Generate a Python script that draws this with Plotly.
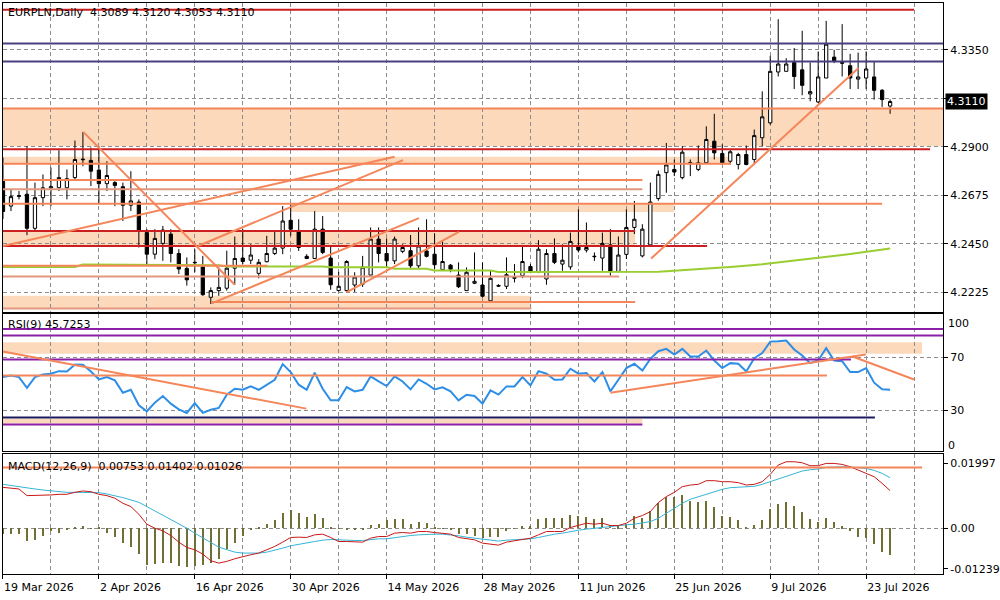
import plotly.graph_objects as go

# ---------------- data (bar index = trading bar, 6 bars per week) ----------------
bars = list(range(112))
opens = [4.2740,4.2625,4.2670,4.2680,4.2522,4.2664,4.2709,4.2710,4.2710,4.2757,
         4.2840,4.2837,4.2792,4.2729,4.2734,4.2715,4.2629,4.2644,4.2502,4.2402,
         4.2452,4.2495,4.2405,4.2336,4.2362,4.2343,4.2202,4.2233,4.2244,4.2337,
         4.2384,4.2374,4.2313,4.2367,4.2405,4.2430,4.2559,4.2505,4.2392,4.2382,
         4.2518,4.2384,4.2233,4.2233,4.2259,4.2263,4.2305,4.2472,4.2405,4.2371,
         4.2415,4.2418,4.2348,4.2417,4.2402,4.2330,4.2351,4.2305,4.2233,4.2267,
         4.2259,4.2186,4.2257,4.2253,4.2290,4.2302,4.2345,4.2318,4.2287,4.2405,
         4.2356,4.2343,4.2436,4.2421,4.2390,4.2384,4.2445,4.2322,4.2401,4.2526,
         4.2394,4.2445,4.2660,4.2780,4.2795,4.2757,4.2826,4.2795,4.2826,4.2926,
         4.2869,4.2833,4.2818,4.2864,4.2841,4.2942,4.3011,4.3247,4.3250,4.3291,
         4.3257,4.3145,4.3108,4.3219,4.3316,4.3291,4.3276,4.3214,4.3219,4.3224,
         4.3162,4.3089]
highs = [4.2850,4.2703,4.2695,4.2903,4.2734,4.2772,4.2804,4.2884,4.2795,4.2929,
         4.2969,4.2897,4.2903,4.2833,4.2741,4.2734,4.2787,4.2656,4.2518,4.2518,
         4.2533,4.2518,4.2425,4.2387,4.2425,4.2394,4.2248,4.2341,4.2418,4.2484,
         4.2518,4.2448,4.2379,4.2487,4.2510,4.2625,4.2633,4.2564,4.2402,4.2602,
         4.2579,4.2440,4.2320,4.2374,4.2318,4.2394,4.2526,4.2526,4.2475,4.2484,
         4.2448,4.2491,4.2526,4.2564,4.2499,4.2464,4.2356,4.2364,4.2341,4.2410,
         4.2364,4.2325,4.2263,4.2387,4.2356,4.2436,4.2356,4.2467,4.2425,4.2475,
         4.2448,4.2502,4.2610,4.2549,4.2410,4.2502,4.2518,4.2484,4.2610,4.2649,
         4.2541,4.2734,4.2790,4.2918,4.2841,4.2903,4.2841,4.2906,4.2995,4.3053,
         4.2911,4.2888,4.2872,4.2906,4.2980,4.3157,4.3322,4.3492,4.3311,4.3358,
         4.3438,4.3291,4.3342,4.3484,4.3350,4.3469,4.3331,4.3337,4.3342,4.3293,
         4.3168,4.3120]
lows = [4.2565,4.2602,4.2656,4.2490,4.2510,4.2625,4.2625,4.2695,4.2656,4.2749,
        4.2810,4.2718,4.2633,4.2695,4.2625,4.2556,4.2602,4.2433,4.2356,4.2379,
        4.2371,4.2364,4.2310,4.2256,4.2318,4.2209,4.2171,4.2209,4.2233,4.2260,
        4.2356,4.2356,4.2290,4.2364,4.2398,4.2402,4.2487,4.2417,4.2379,4.2379,
        4.2402,4.2237,4.2230,4.2225,4.2227,4.2250,4.2302,4.2364,4.2341,4.2356,
        4.2407,4.2333,4.2333,4.2387,4.2333,4.2325,4.2318,4.2245,4.2233,4.2263,
        4.2202,4.2186,4.2250,4.2240,4.2271,4.2291,4.2314,4.2314,4.2260,4.2356,
        4.2325,4.2330,4.2410,4.2410,4.2371,4.2325,4.2302,4.2318,4.2379,4.2495,
        4.2387,4.2440,4.2650,4.2687,4.2764,4.2749,4.2764,4.2787,4.2820,4.2841,
        4.2818,4.2818,4.2795,4.2814,4.2818,4.2903,4.3003,4.3226,4.3250,4.3168,
        4.3139,4.3111,4.3103,4.3219,4.3288,4.3226,4.3168,4.3168,4.3168,4.3119,
        4.3085,4.3053]
closes = [4.2600,4.2669,4.2673,4.2522,4.2664,4.2710,4.2715,4.2757,4.2752,4.2841,
          4.2842,4.2787,4.2729,4.2767,4.2721,4.2629,4.2649,4.2507,4.2402,4.2475,
          4.2514,4.2405,4.2333,4.2283,4.2364,4.2214,4.2233,4.2248,4.2337,4.2382,
          4.2368,4.2398,4.2364,4.2405,4.2430,4.2556,4.2518,4.2433,4.2382,4.2518,
          4.2410,4.2260,4.2253,4.2368,4.2296,4.2342,4.2472,4.2405,4.2371,4.2472,
          4.2433,4.2348,4.2440,4.2392,4.2353,4.2368,4.2332,4.2251,4.2318,4.2276,
          4.2207,4.2290,4.2254,4.2307,4.2294,4.2368,4.2320,4.2425,4.2405,4.2364,
          4.2374,4.2461,4.2421,4.2433,4.2392,4.2452,4.2322,4.2398,4.2526,4.2564,
          4.2518,4.2644,4.2772,4.2816,4.2783,4.2875,4.2827,4.2826,4.2934,4.2872,
          4.2826,4.2877,4.2864,4.2818,4.2952,4.3039,4.3250,4.3284,4.3284,4.3226,
          4.3185,4.3156,4.3224,4.3376,4.3296,4.3288,4.3219,4.3224,4.3261,4.3162,
          4.3119,4.3110]
ma_line = ([4.2343]*10 + [4.2354]*11 + [4.2351]*7 + [4.2345]*13 + [4.2341]*8 +
           [4.2334]*5 + [4.2326]*8 + [4.2319]*17 + [4.2320]*4 +
           [4.2323,4.2325,4.2327,4.2330,4.2332,4.2335,4.2338,4.2340,4.2343,4.2345,
            4.2348,4.2352,4.2355,4.2359,4.2363,4.2368,4.2372,4.2376,4.2380,4.2385,
            4.2389,4.2394,4.2398,4.2403,4.2408,4.2413,4.2418,4.2423,4.2428])
rsi = [55.1,56.3,55.1,47.1,55.1,57.1,57.6,59.5,59.3,64.5,
       64.3,59.3,53.3,55.1,52.6,43.4,45.6,34.0,29.5,36.0,
       40.9,35.2,31.0,28.3,35.7,28.3,30.7,32.0,41.9,46.4,
       45.6,48.1,45.6,49.4,53.1,64.8,58.8,49.4,45.6,58.3,
       46.4,37.7,37.7,47.6,44.4,45.6,55.6,51.8,48.4,55.6,
       51.8,45.9,53.3,50.1,45.9,47.4,44.4,37.7,41.9,40.9,
       35.2,45.1,42.0,48.1,48.1,55.1,48.9,59.5,57.6,53.1,
       53.3,61.3,57.6,58.1,51.8,58.8,44.4,53.1,61.8,65.0,
       60.0,68.7,74.4,76.2,72.0,76.2,70.5,70.5,74.9,67.5,
       61.8,65.5,65.0,59.3,69.2,73.0,81.6,81.9,82.4,75.7,
       71.2,65.5,67.5,76.7,67.5,67.0,58.8,58.8,61.8,50.9,
       45.9,45.7]
macd_main = [0.01264,0.01233,0.01213,0.01009,0.01009,0.01009,0.01030,0.01050,0.01050,0.01111,
             0.01152,0.01131,0.01050,0.01009,0.00928,0.00775,0.00673,0.00438,0.00133,0.00010,
             -0.00071,-0.00214,-0.00418,-0.00581,-0.00652,-0.00785,-0.00989,-0.01060,-0.01009,-0.00928,
             -0.00856,-0.00805,-0.00754,-0.00652,-0.00550,-0.00418,-0.00275,-0.00265,-0.00275,-0.00194,
             -0.00173,-0.00275,-0.00398,-0.00398,-0.00418,-0.00418,-0.00296,-0.00245,-0.00245,-0.00143,
             -0.00122,-0.00143,-0.00092,-0.00092,-0.00122,-0.00143,-0.00173,-0.00275,-0.00316,-0.00347,
             -0.00449,-0.00469,-0.00510,-0.00418,-0.00377,-0.00347,-0.00296,-0.00194,-0.00092,-0.00092,
             -0.00092,0.00031,0.00092,0.00163,0.00133,0.00163,0.00092,0.00092,0.00163,0.00316,
             0.00398,0.00520,0.00795,0.00979,0.01111,0.01284,0.01335,0.01356,0.01468,0.01468,
             0.01437,0.01437,0.01407,0.01335,0.01356,0.01437,0.01662,0.01947,0.02049,0.02049,
             0.02018,0.01927,0.01927,0.01998,0.01998,0.01967,0.01896,0.01794,0.01692,0.01590,
             0.01386,0.01162]
macd_signal = [0.01356,0.01315,0.01284,0.01254,0.01213,0.01182,0.01152,0.01131,0.01111,0.01111,
               0.01111,0.01111,0.01101,0.01060,0.01009,0.00948,0.00877,0.00805,0.00673,0.00540,
               0.00418,0.00296,0.00163,0.00010,-0.00143,-0.00275,-0.00428,-0.00571,-0.00652,-0.00724,
               -0.00754,-0.00754,-0.00754,-0.00724,-0.00673,-0.00601,-0.00530,-0.00479,-0.00449,-0.00398,
               -0.00357,-0.00336,-0.00347,-0.00367,-0.00367,-0.00367,-0.00336,-0.00316,-0.00316,-0.00275,
               -0.00245,-0.00214,-0.00194,-0.00173,-0.00173,-0.00173,-0.00194,-0.00224,-0.00265,-0.00296,
               -0.00326,-0.00357,-0.00385,-0.00357,-0.00347,-0.00316,-0.00316,-0.00275,-0.00214,-0.00173,
               -0.00143,-0.00092,-0.00051,-0.00020,0.00010,0.00041,0.00061,0.00082,0.00112,0.00133,
               0.00163,0.00214,0.00316,0.00469,0.00622,0.00775,0.00897,0.00979,0.01060,0.01131,
               0.01203,0.01254,0.01274,0.01284,0.01295,0.01356,0.01437,0.01519,0.01611,0.01692,
               0.01764,0.01804,0.01825,0.01876,0.01896,0.01896,0.01886,0.01865,0.01845,0.01784,
               0.01692,0.01560]
macd_hist = [-0.00173,-0.00173,-0.00194,-0.00398,-0.00377,-0.00245,-0.00092,-0.00143,-0.00071,0.00005,
             0.00061,-0.00008,0.00005,-0.00163,-0.00275,-0.00469,-0.00571,-0.00805,-0.01142,-0.01111,
             -0.01060,-0.01060,-0.01162,-0.01193,-0.01162,-0.01142,-0.01060,-0.00958,-0.00652,-0.00449,
             -0.00245,-0.00031,0.00010,0.00112,0.00234,0.00469,0.00561,0.00469,0.00347,0.00438,
             0.00296,0.00031,-0.00010,-0.00071,-0.00041,-0.00041,0.00092,0.00133,0.00234,0.00265,
             0.00265,0.00133,0.00194,0.00163,0.00010,-0.00020,-0.00041,-0.00173,-0.00194,-0.00245,
             -0.00296,-0.00275,-0.00275,-0.00092,-0.00010,0.00051,0.00051,0.00265,0.00316,0.00296,
             0.00296,0.00387,0.00367,0.00347,0.00265,0.00296,0.00092,0.00051,0.00133,0.00367,
             0.00296,0.00520,0.00754,0.00948,0.00948,0.01009,0.00826,0.00795,0.00826,0.00652,
             0.00367,0.00347,0.00234,0.00031,0.00092,0.00234,0.00571,0.00744,0.00805,0.00673,
             0.00499,0.00265,0.00194,0.00296,0.00194,0.00061,-0.00092,-0.00275,-0.00316,-0.00500,
             -0.00724,-0.00836]

date_ticks = [0, 12, 24, 36, 48, 60, 72, 84, 96, 108]
date_labels = ["19 Mar 2026", "2 Apr 2026", "16 Apr 2026", "30 Apr 2026", "14 May 2026",
               "28 May 2026", "11 Jun 2026", "25 Jun 2026", "9 Jul 2026", "23 Jul 2026"]
minor_ticks = [6, 18, 30, 42, 54, 66, 78, 90, 102, 114]
price_ticks = [4.2225, 4.2450, 4.2675, 4.2900, 4.3125, 4.3350]
price_labels = ["4.2225", "4.2450", "4.2675", "4.2900", "", "4.3350"]
rsi_ticks = [70, 30]
rsi_labels = ["70", "30"]
macd_ticks = [0.01997, 0.0, -0.01239]
macd_labels = ["0.01997", "0.00", "-0.01239"]
last_price = 4.3110

# drawn objects on the price panel (levels in price, extents in bars)
hl_price = [4.3536, 4.3379, 4.3296, 4.3078, 4.2889, 4.2821, 4.2746, 4.2703,
            4.2636, 4.2510, 4.2440, 4.2348, 4.2299, 4.2180, 4.2150]
hl_from = [-1, -1, -1, -1, -1, -1, -1, -1, -1, -1, -1, -1, -1, 26.1, -1]
hl_to = [114, 120, 120, 120, 116, 91.1, 80, 80, 110, 79.1, 88.1, 33.1, 77.1, 79.1, 66.1]
hl_kind = ["red", "navy", "navy", "orange", "red", "orange", "orange", "salmon",
           "orange", "red", "red", "orange", "salmon", "orange", "salmon"]
zone_lo = [4.2903, 4.2818, 4.2598, 4.2440, 4.2148]
zone_hi = [4.3078, 4.2854, 4.2636, 4.2510, 4.2209]
zone_from = [-1, -1, 35.9, -1, -1]
zone_to = [120, 91.1, 84, 79.1, 66.1]
tr_x0 = [10.04, 0, 24.4, 26.1, 42.96, 81.1]
tr_y0 = [4.2969, 4.2440, 4.2440, 4.2174, 4.2225, 4.2382]
tr_x1 = [29, 49, 50.04, 52.04, 57.04, 107.04]
tr_y1 = [4.2260, 4.2854, 4.2838, 4.2569, 4.2505, 4.3265]

# drawn objects on the RSI panel
rsi_hl_val = [91.1, 86.1, 68.2, 56.3, 24.8, 19.6]
rsi_hl_to = [120, 120, 106.1, 103.1, 109.1, 80]
rsi_hl_kind = ["purple", "purple", "purple", "orange", "midnight", "purple"]
rsi_zone_lo = [72.5, 20.3]
rsi_zone_hi = [81.1, 24.0]
rsi_zone_to = [115, 80]
rsi_tr_x0 = [0, 76, 106.3]
rsi_tr_y0 = [74.2, 43.4, 70.5]
rsi_tr_x1 = [37.96, 107.96, 114]
rsi_tr_y1 = [31.5, 72.0, 53.3]

# drawn objects on the MACD panel
macd_hl_val = [0.01876]
macd_hl_to = [115]

# ---------------- styling ----------------
COL = {"red": "#cc1f1f", "navy": "#4b3f80", "orange": "#f4865a", "salmon": "#e2987e",
       "purple": "#8c1fa8", "midnight": "#1d1a60"}
PEACH = "#fdd9bb"
GRID = "#8c8c8c"
FONT = "DejaVu Sans"

fig = go.Figure()

fig.add_trace(go.Candlestick(
    x=bars, open=opens, high=highs, low=lows, close=closes,
    increasing=dict(line=dict(color="black", width=1), fillcolor="white"),
    decreasing=dict(line=dict(color="black", width=1), fillcolor="black"),
    whiskerwidth=0, xaxis="x", yaxis="y", hoverinfo="skip"))
fig.add_trace(go.Scatter(x=bars, y=ma_line, mode="lines",
                         line=dict(color="#9acd32", width=2), xaxis="x", yaxis="y",
                         hoverinfo="skip"))
fig.add_trace(go.Scatter(x=bars, y=rsi, mode="lines",
                         line=dict(color="#2e8ee6", width=2), xaxis="x2", yaxis="y2",
                         hoverinfo="skip"))
fig.add_trace(go.Bar(x=bars, y=macd_hist, width=0.13,
                     marker=dict(color="#726f35", line=dict(width=0)),
                     xaxis="x3", yaxis="y3", hoverinfo="skip"))
fig.add_trace(go.Scatter(x=bars, y=macd_signal, mode="lines",
                         line=dict(color="#35b4d6", width=1), xaxis="x3", yaxis="y3",
                         hoverinfo="skip"))
fig.add_trace(go.Scatter(x=bars, y=macd_main, mode="lines",
                         line=dict(color="#c81818", width=1), xaxis="x3", yaxis="y3",
                         hoverinfo="skip"))

shapes = []
for lo, hi, a, b in zip(zone_lo, zone_hi, zone_from, zone_to):
    shapes.append(dict(type="rect", xref="x", yref="y", x0=a, x1=b, y0=lo, y1=hi,
                       fillcolor=PEACH, line=dict(width=0), layer="below"))
for p, a, b, k in zip(hl_price, hl_from, hl_to, hl_kind):
    shapes.append(dict(type="line", xref="x", yref="y", x0=a, x1=b, y0=p, y1=p,
                       line=dict(color=COL[k], width=2), layer="above"))
for a, ya, b, yb in zip(tr_x0, tr_y0, tr_x1, tr_y1):
    shapes.append(dict(type="line", xref="x", yref="y", x0=a, x1=b, y0=ya, y1=yb,
                       line=dict(color=COL["orange"], width=2), layer="above"))
for lo, hi, b in zip(rsi_zone_lo, rsi_zone_hi, rsi_zone_to):
    shapes.append(dict(type="rect", xref="x2", yref="y2", x0=-1, x1=b, y0=lo, y1=hi,
                       fillcolor=PEACH, line=dict(width=0), layer="below"))
for v, b, k in zip(rsi_hl_val, rsi_hl_to, rsi_hl_kind):
    shapes.append(dict(type="line", xref="x2", yref="y2", x0=-1, x1=b, y0=v, y1=v,
                       line=dict(color=COL[k], width=2), layer="above"))
for a, ya, b, yb in zip(rsi_tr_x0, rsi_tr_y0, rsi_tr_x1, rsi_tr_y1):
    shapes.append(dict(type="line", xref="x2", yref="y2", x0=a, x1=b, y0=ya, y1=yb,
                       line=dict(color=COL["orange"], width=2), layer="above"))
for v, b in zip(macd_hl_val, macd_hl_to):
    shapes.append(dict(type="line", xref="x3", yref="y3", x0=-1, x1=b, y0=v, y1=v,
                       line=dict(color=COL["orange"], width=2), layer="above"))

XR = [0, 117.625]
grid = dict(showgrid=True, gridcolor=GRID, griddash="4px,3px", gridwidth=1)
def xax(show_labels):
    d = dict(range=XR, tickvals=date_ticks, zeroline=False,
             showline=True, linecolor="black", linewidth=1, mirror=True,
             minor=dict(tickvals=minor_ticks, showgrid=True, gridcolor=GRID,
                        griddash="4px,3px", gridwidth=1, ticks=""),
             rangeslider=dict(visible=False), fixedrange=True, **grid)
    if show_labels:
        d.update(ticktext=date_labels, ticks="outside", ticklen=4, tickcolor="black",
                 ticklabelposition="outside right", ticklabelstandoff=3,
                 tickfont=dict(family=FONT, size=11, color="black"))
    else:
        d.update(showticklabels=False, ticks="")
    return d

def yax(domain, rng, tv, tt, anchor, showgrid=True, minor=None):
    d = dict(domain=domain, range=rng, side="right", anchor=anchor,
             tickvals=tv, ticktext=tt, ticks="outside", ticklen=4, tickcolor="black",
             tickfont=dict(family=FONT, size=11, color="black"),
             showline=True, linecolor="black", linewidth=1, mirror=True,
             zeroline=False, fixedrange=True)
    if showgrid:
        d.update(grid)
    else:
        d.update(showgrid=False)
    if minor is not None:
        d["minor"] = dict(tickvals=minor, showgrid=True, gridcolor=GRID,
                          griddash="4px,3px", gridwidth=1, ticks="")
    return d

title_text = "EURPLN,Daily  " + f"{opens[-1]:.4f} {highs[-1]:.4f} {lows[-1]:.4f} {closes[-1]:.4f}"
annotations = [
    dict(text=title_text, xref="paper", yref="paper", x=0.006, y=1 - 12.5 / 600,
         xanchor="left", yanchor="middle", showarrow=False,
         font=dict(family=FONT, size=11, color="black")),
    dict(text="RSI(9) 45.7253", xref="paper", yref="paper", x=0.006, y=1 - 326 / 600,
         xanchor="left", yanchor="middle", showarrow=False,
         font=dict(family=FONT, size=11, color="black")),
    dict(text="MACD(12,26,9)  0.00753 0.01402 0.01026", xref="paper", yref="paper", x=0.006,
         y=1 - 468 / 600, xanchor="left", yanchor="middle", showarrow=False,
         font=dict(family=FONT, size=11, color="black")),
    dict(text=f"{last_price:.4f}", xref="paper", yref="y", x=0.946, y=last_price,
         xanchor="left", yanchor="middle", showarrow=False, bgcolor="black", borderpad=1,
         font=dict(family=FONT, size=11, color="white")),
    dict(text="100", xref="paper", yref="paper", x=0.947, y=1 - 324.3 / 600,
         xanchor="left", yanchor="middle", showarrow=False,
         font=dict(family=FONT, size=11, color="black")),
    dict(text="0", xref="paper", yref="paper", x=0.947, y=1 - 446.7 / 600,
         xanchor="left", yanchor="middle", showarrow=False,
         font=dict(family=FONT, size=11, color="black")),
]

fig.update_layout(
    width=1000, height=600, margin=dict(l=0, r=0, t=0, b=0),
    paper_bgcolor="white", plot_bgcolor="white", showlegend=False,
    boxgap=0.42, bargap=0,
    font=dict(family=FONT, size=11, color="black"),
    xaxis=dict(domain=[0.003, 0.944], anchor="y", **xax(False)),
    xaxis2=dict(domain=[0.003, 0.944], anchor="y2", matches="x", **xax(False)),
    xaxis3=dict(domain=[0.003, 0.944], anchor="y3", matches="x", **xax(True)),
    yaxis=yax([1 - 313 / 600, 1 - 3 / 600], [4.2134, 4.3567], price_ticks, price_labels, "x"),
    yaxis2=yax([1 - 453 / 600, 1 - 315.5 / 600], [-0.54, 101.9], rsi_ticks, rsi_labels, "x2",
               minor=[0]),
    yaxis3=yax([1 - 576 / 600, 1 - 456 / 600], [-0.01398, 0.02272], macd_ticks, macd_labels, "x3",
               showgrid=False, minor=[0]),
    shapes=shapes, annotations=annotations,
)

fig.write_html("out.html")
